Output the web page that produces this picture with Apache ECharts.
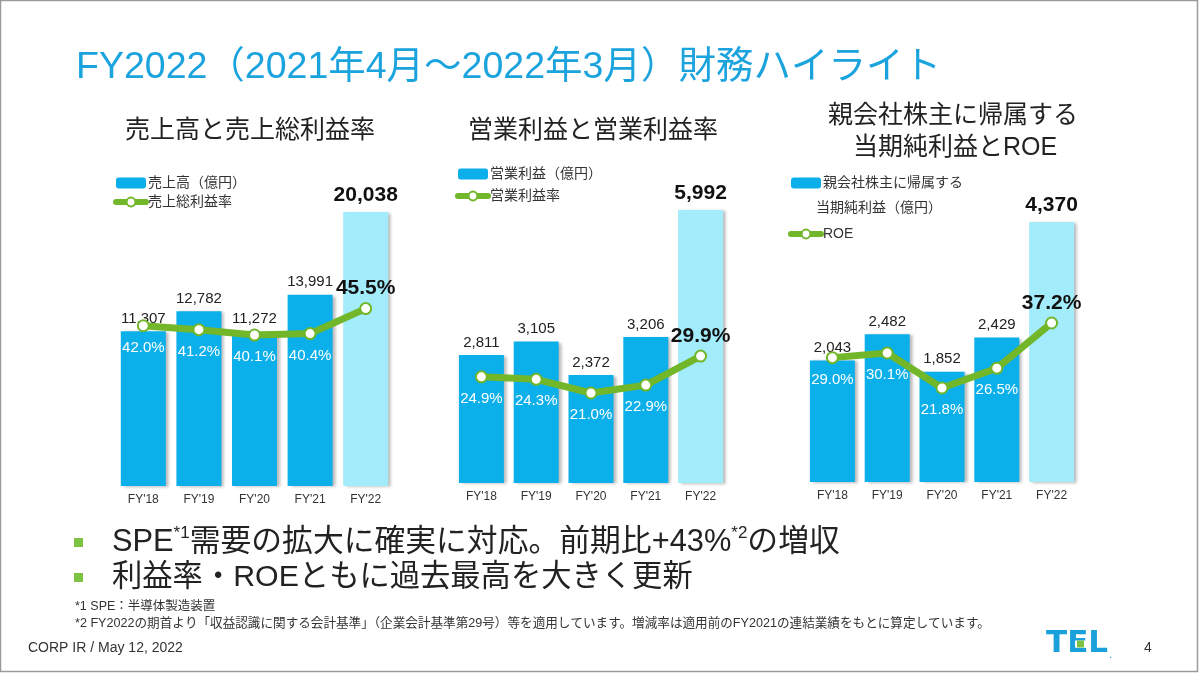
<!DOCTYPE html>
<html><head><meta charset="utf-8">
<script src="https://cdn.jsdelivr.net/npm/echarts@6/dist/echarts.min.js"></script>
<style>html,body{margin:0;padding:0;background:#fff}#c{width:1200px;height:675px}</style>
</head><body><div id="c"></div>
<script>
const categories = ["FY'18", "FY'19", "FY'20", "FY'21", "FY'22"];
const salesValues = [11307, 12782, 11272, 13991, 20038];
const grossMargin = [42.0, 41.2, 40.1, 40.4, 45.5];
const opIncome = [2811, 3105, 2372, 3206, 5992];
const opMargin = [24.9, 24.3, 21.0, 22.9, 29.9];
const netIncome = [2043, 2482, 1852, 2429, 4370];
const roe = [29.0, 30.1, 21.8, 26.5, 37.2];

const FONT = "'Liberation Sans', 'Noto Sans CJK JP', sans-serif";
const BLUE = '#0BAFE9', LIGHT = '#A2ECFB', GREEN = '#72B62A';

const panels = [
  {barName: '売上高（億円）', lineName: '売上総利益率', bars: salesValues, line: grossMargin,
   grid: {left: 115.5, width: 278, top: 140, bottom: 189}, barMax: 25300, lineMin: 9.3, lineMax: 79.9,
   legend: {left: 108, top: 171, gap: 5}},
  {barName: '営業利益（億円）', lineName: '営業利益率', bars: opIncome, line: opMargin,
   grid: {left: 454, width: 274, top: 140, bottom: 192}, barMax: 7530, lineMin: -0.7, lineMax: 82,
   legend: {left: 450, top: 162, gap: 8}},
  {barName: '親会社株主に帰属する', lineName: 'ROE', bars: netIncome, line: roe,
   grid: {left: 805, width: 274, top: 140, bottom: 193}, barMax: 5750, lineMin: -0.47, lineMax: 80.57,
   legend: {left: 783, top: 171, gap: 37}}
];

const grids = [], xAxes = [], yAxes = [], series = [], legends = [];
panels.forEach((p, i) => {
  grids.push(Object.assign({}, p.grid));
  xAxes.push({type: 'category', gridIndex: i, data: categories,
    axisLine: {show: false}, axisTick: {show: false},
    axisLabel: {fontFamily: FONT, fontSize: 12, color: '#333', margin: 8}});
  yAxes.push({type: 'value', gridIndex: i, min: 0, max: p.barMax, show: false, splitLine: {show: false}});
  yAxes.push({type: 'value', gridIndex: i, min: p.lineMin, max: p.lineMax, show: false, splitLine: {show: false}});
  const last = p.bars.length - 1;
  series.push({
    type: 'bar', name: p.barName, xAxisIndex: i, yAxisIndex: i * 2, barWidth: 45,
    itemStyle: {color: BLUE, shadowColor: 'rgba(0,0,0,0.28)', shadowBlur: 3, shadowOffsetX: 3, shadowOffsetY: 1},
    label: {show: true, position: 'top', distance: 5, fontFamily: FONT, fontSize: 15, color: '#222',
      formatter: v => v.value.toLocaleString('en-US')},
    data: p.bars.map((v, k) => k === last ? {value: v, itemStyle: {color: LIGHT},
      label: {fontSize: 21, fontWeight: 'bold', color: '#111', distance: 6}} : v)
  });
  series.push({
    type: 'line', name: p.lineName, xAxisIndex: i, yAxisIndex: i * 2 + 1, z: 5,
    symbol: 'circle', symbolSize: 11,
    lineStyle: {color: GREEN, width: 7, cap: 'round', join: 'round'},
    itemStyle: {color: '#fff', borderColor: GREEN, borderWidth: 2},
    label: {show: true, position: 'bottom', distance: 8, fontFamily: FONT, fontSize: 15, color: '#fff',
      formatter: v => v.value.toFixed(1) + '%'},
    data: p.line.map((v, k) => k === last ? {value: v,
      label: {position: 'top', distance: 3, fontSize: 21, fontWeight: 'bold', color: '#111'}} : v)
  });
  legends.push({orient: 'vertical', left: p.legend.left, top: p.legend.top, itemGap: p.legend.gap,
    itemWidth: 30, itemHeight: 11, selectedMode: false,
    data: [{name: p.barName}, {name: p.lineName, lineStyle: {width: 6, color: GREEN},
      itemStyle: {color: '#fff', borderColor: GREEN, borderWidth: 2}}],
    textStyle: {fontFamily: FONT, fontSize: 14, color: '#333', padding: [0, 0, 0, -3]}});
});

const txt = (x, y, text, size, color, extra) => ({type: 'text', x: x, y: y,
  style: Object.assign({text: text, fontFamily: FONT, fontSize: size, fill: color, verticalAlign: 'middle'}, extra || {})});

const graphic = [
  {type: 'rect', shape: {x: 0.5, y: 0.5, width: 1197, height: 671}, style: {fill: 'none', stroke: '#9a9a9a', lineWidth: 1.5}, silent: true},
  txt(76, 68, 'FY2022（2021年4月～2022年3月）財務ハイライト', 37.5, '#1BA3DE'),
  txt(250, 131, '売上高と売上総利益率', 25, '#222', {align: 'center'}),
  txt(593, 131, '営業利益と営業利益率', 25, '#222', {align: 'center'}),
  txt(953, 116, '親会社株主に帰属する', 25, '#222', {align: 'center'}),
  txt(955, 148, '当期純利益とROE', 25, '#222', {align: 'center'}),
  txt(816, 208, '当期純利益（億円）', 14, '#333'),
  {type: 'rect', shape: {x: 74, y: 538, width: 9, height: 9}, style: {fill: '#7DC242'}},
  {type: 'rect', shape: {x: 74, y: 573, width: 9, height: 9}, style: {fill: '#7DC242'}},
  {type: 'text', x: 112, y: 543, style: {
    text: '{a|SPE}{s|*1}{a|需要の拡大に確実に対応。前期比+43%}{s|*2}{a|の増収}',
    fontFamily: FONT, verticalAlign: 'middle',
    rich: {a: {fontFamily: FONT, fontSize: 30.8, fill: '#222', lineHeight: 36},
           s: {fontFamily: FONT, fontSize: 17, fill: '#222', lineHeight: 36, verticalAlign: 'top'}}}},
  txt(112, 578, '利益率・ROEともに過去最高を大きく更新', 30.3, '#222'),
  txt(75, 607, '*1 SPE：半導体製造装置', 12.5, '#333'),
  txt(75, 624, '*2 FY2022の期首より「収益認識に関する会計基準」（企業会計基準第29号）等を適用しています。増減率は適用前のFY2021の連結業績をもとに算定しています。', 12.6, '#333'),
  txt(28, 648, 'CORP IR / May 12, 2022', 14, '#333'),
  txt(1144, 648, '4', 14, '#333'),
  txt(1046, 644, 'TEL', 31, '#1AA0DA', {fontWeight: 'bold', fontFamily: "'DejaVu Sans', sans-serif"}),
  {type: 'rect', shape: {x: 1075, y: 640.5, width: 12, height: 7}, style: {fill: '#fff'}},
  {type: 'rect', shape: {x: 1077, y: 640.5, width: 7, height: 7}, style: {fill: '#7DC242'}},
  txt(1109, 655, '.', 10, '#1AA0DA', {fontFamily: "'DejaVu Sans', sans-serif"})
];

const chart = echarts.init(document.getElementById('c'), null, {renderer: 'canvas'});
chart.setOption({
  animation: false, backgroundColor: '#fff',
  textStyle: {fontFamily: FONT},
  grid: grids, xAxis: xAxes, yAxis: yAxes, series: series, legend: legends, graphic: graphic
});
</script></body></html>
